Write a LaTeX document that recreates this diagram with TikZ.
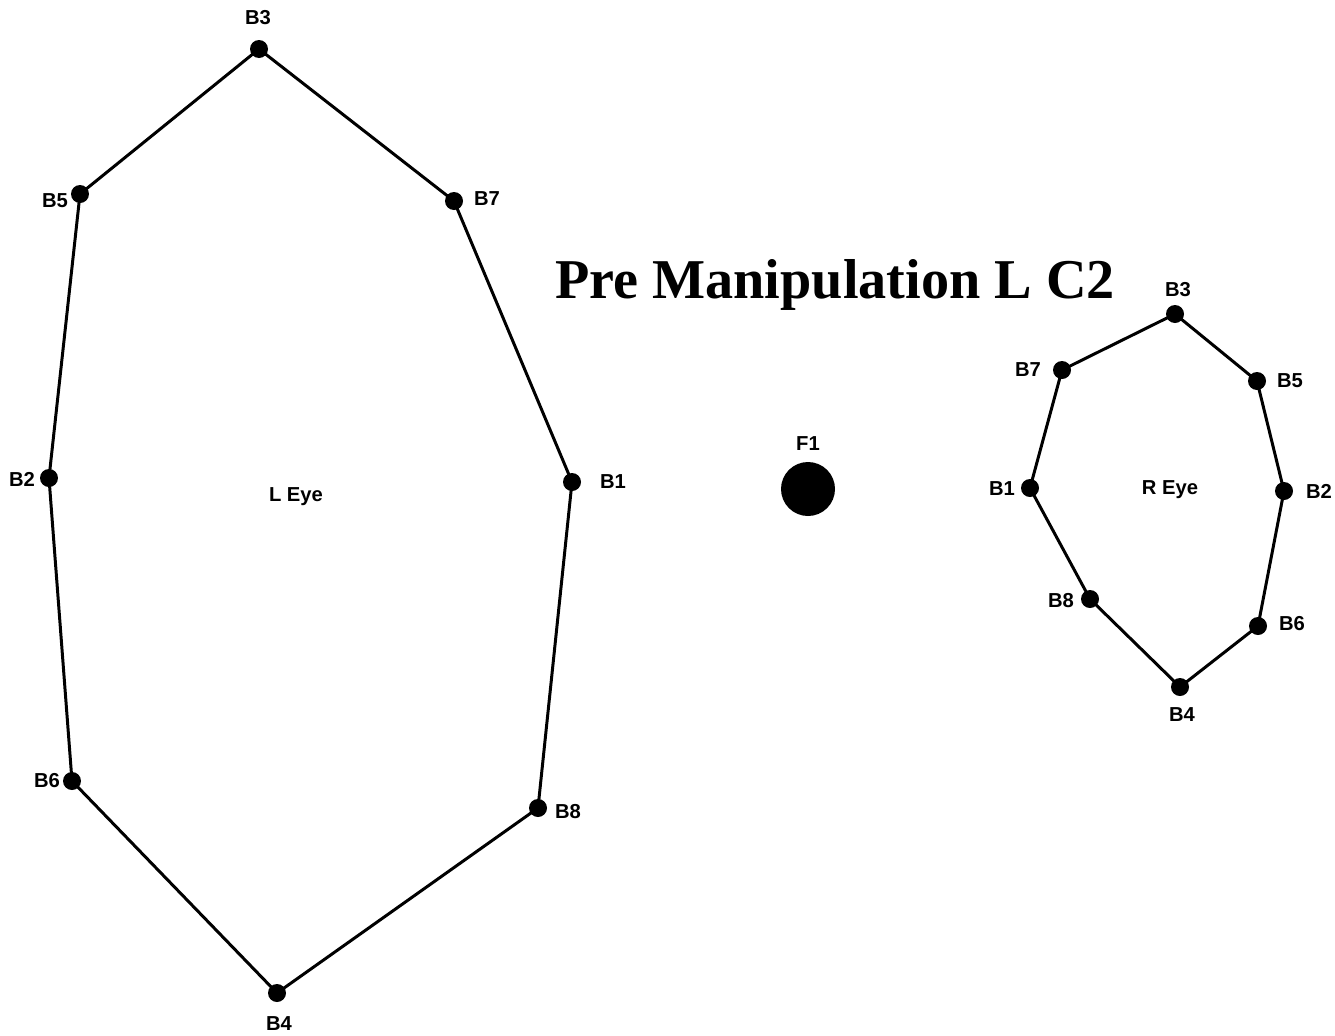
\documentclass[tikz,border=0pt]{standalone}
\usepackage{fontspec}
\setmainfont{Liberation Serif}
\setsansfont{Liberation Sans}
\usetikzlibrary{positioning}

\begin{document}
\begin{tikzpicture}[
  x=0.02cm, y=-0.02cm,
  every node/.style={font=\sffamily\bfseries\fontsize{11.5}{13}\selectfont},
  pt/.style={circle,fill=black,inner sep=0pt,minimum size=0.36cm},
  lab/.style={inner sep=0pt},
  outline/.style={line width=1.7pt,line join=round},
]
  \useasboundingbox (0,0) rectangle (1335,1035);

  % left eye points
  \node[pt] (l3) at (259,49) {};
  \node[pt] (l5) at (80,194) {};
  \node[pt] (l7) at (454,201) {};
  \node[pt] (l2) at (49,478) {};
  \node[pt] (l1) at (572,482) {};
  \node[pt] (l6) at (72,781) {};
  \node[pt] (l8) at (538,808) {};
  \node[pt] (l4) at (277,993) {};

  \node[lab] (l3t) at (258,18) {B3};
  \node[lab] (l5t) at (55,201) {B5};
  \node[lab] (l7t) at (487,199) {B7};
  \node[lab] (l2t) at (22,479) {B2};
  \node[lab] (l1t) at (613,482) {B1};
  \node[lab] (l6t) at (47,781) {B6};
  \node[lab] (l8t) at (568,812) {B8};
  \node[lab] (l4t) at (279,1024) {B4};
  \node[lab] (leye) at (296,497) {L Eye};

  \draw[outline] (l3.center) -- (l7.center) -- (l1.center) -- (l8.center)
    -- (l4.center) -- (l6.center) -- (l2.center) -- (l5.center) -- cycle;

  % fixation target
  \node[circle,fill=black,inner sep=0pt,minimum size=1.08cm] (f1) at (808,489) {};
  \node[lab] (f1t) at (808,444) {F1};

  % title
  \node[font=\rmfamily\bfseries\fontsize{32}{36}\selectfont,inner sep=0pt]
    (title) at (835,285) {Pre Manipulation L C2};

  % right eye points
  \node[pt] (r3) at (1175,314) {};
  \node[pt] (r7) at (1062,370) {};
  \node[pt] (r5) at (1257,381) {};
  \node[pt] (r1) at (1030,488) {};
  \node[pt] (r2) at (1284,491) {};
  \node[pt] (r8) at (1090,599) {};
  \node[pt] (r6) at (1258,626) {};
  \node[pt] (r4) at (1180,687) {};

  \node[lab] (r3t) at (1178,290) {B3};
  \node[lab] (r7t) at (1028,370) {B7};
  \node[lab] (r5t) at (1290,381) {B5};
  \node[lab] (r1t) at (1002,489) {B1};
  \node[lab] (r2t) at (1319,491) {B2};
  \node[lab] (r8t) at (1061,601) {B8};
  \node[lab] (r6t) at (1292,624) {B6};
  \node[lab] (r4t) at (1182,715) {B4};
  \node[lab] (reye) at (1170,490) {R Eye};

  \draw[outline] (r3.center) -- (r5.center) -- (r2.center) -- (r6.center)
    -- (r4.center) -- (r8.center) -- (r1.center) -- (r7.center) -- cycle;
\end{tikzpicture}
\end{document}
